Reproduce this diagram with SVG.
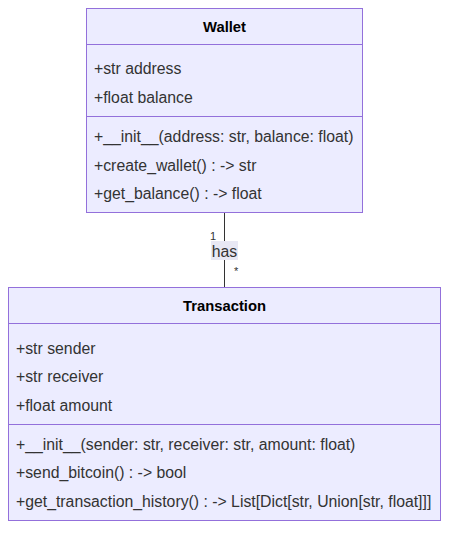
<svg xmlns="http://www.w3.org/2000/svg" width="457" height="538" viewBox="0 0 457 538">
<style>
.box{fill:#ECECFF;stroke:#9370DB;stroke-width:1}
.div{stroke:#9370DB;stroke-width:1}
text{font-family:"Liberation Sans",Arial,sans-serif;font-size:15.8px;fill:#333}
.t{font-weight:bold;text-anchor:middle;fill:#000;font-size:14.8px}
.edge{stroke:#333;stroke-width:1;fill:none}
.card{font-size:11px}
</style>
<rect width="457" height="538" fill="#ffffff"/>
<g id="connectors">
<path class="edge" d="M224.5,213 L224.5,287"/>
<rect x="211" y="241" width="27" height="19" fill="#E8E8F4"/>
<text x="224.5" y="256.5" text-anchor="middle">has</text>
<text class="card" x="210" y="240">1</text>
<text class="card" x="234" y="275">*</text>
</g>
<g id="Wallet">
<rect class="box" x="86.5" y="8.5" width="276" height="204"/>
<line class="div" x1="86.5" y1="44.5" x2="362.5" y2="44.5"/>
<line class="div" x1="86.5" y1="116.5" x2="362.5" y2="116.5"/>
<text class="t" x="224.5" y="32">Wallet</text>
<text x="94" y="74">+str address</text>
<text x="94" y="103">+float balance</text>
<text x="94" y="142">+__init__(address: str, balance: float)</text>
<text x="94" y="171">+create_wallet() : -&gt; str</text>
<text x="94" y="199">+get_balance() : -&gt; float</text>
</g>
<g id="Transaction">
<rect class="box" x="8.5" y="287.5" width="432" height="233"/>
<line class="div" x1="8.5" y1="323.5" x2="440.5" y2="323.5"/>
<line class="div" x1="8.5" y1="424.5" x2="440.5" y2="424.5"/>
<text class="t" x="224.5" y="311">Transaction</text>
<text x="16" y="354">+str sender</text>
<text x="16" y="382">+str receiver</text>
<text x="16" y="411">+float amount</text>
<text x="16" y="450">+__init__(sender: str, receiver: str, amount: float)</text>
<text x="16" y="478">+send_bitcoin() : -&gt; bool</text>
<text x="16" y="507">+get_transaction_history() : -&gt; List[Dict[str, Union[str, float]]]</text>
</g>
</svg>
